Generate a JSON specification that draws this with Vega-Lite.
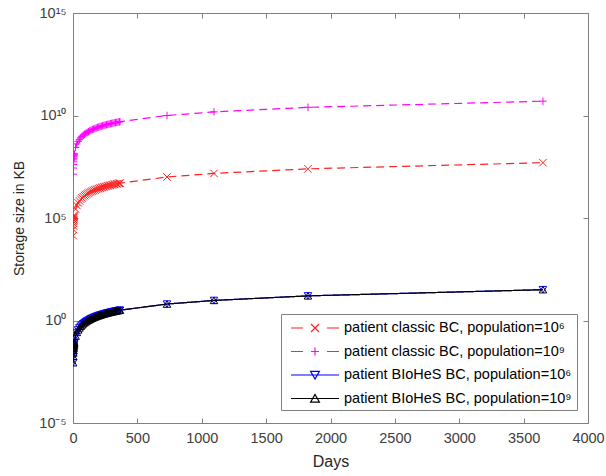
{
"$schema":"https://vega.github.io/schema/vega-lite/v6.json",
"width":515,"height":410,
"autosize":"none",
"padding":{"left":73,"top":13,"right":18,"bottom":53},
"background":"white",
"config":{"font":"Liberation Sans","view":{"stroke":null}},
"datasets":{
"leg":[{"lg":"patient classic BC, population=10⁶"},{"lg":"patient classic BC, population=10⁹"},{"lg":"patient BIoHeS BC, population=10⁶"},{"lg":"patient BIoHeS BC, population=10⁹"}],
"main":[
{"s":"c6","d":1,"v":1.37e4},{"s":"c6","d":2,"v":2.74e4},{"s":"c6","d":3,"v":4.11e4},{"s":"c6","d":4,"v":5.48e4},{"s":"c6","d":5,"v":6.85e4},{"s":"c6","d":6,"v":8.22e4},{"s":"c6","d":7,"v":9.59e4},{"s":"c6","d":8,"v":1.096e5},{"s":"c6","d":9,"v":1.233e5},{"s":"c6","d":10,"v":1.37e5},
{"s":"c6","d":20,"v":2.74e5},{"s":"c6","d":30,"v":4.11e5},{"s":"c6","d":40,"v":5.48e5},{"s":"c6","d":50,"v":6.85e5},{"s":"c6","d":60,"v":8.22e5},{"s":"c6","d":70,"v":9.59e5},{"s":"c6","d":80,"v":1.096e6},{"s":"c6","d":90,"v":1.233e6},{"s":"c6","d":100,"v":1.37e6},{"s":"c6","d":110,"v":1.507e6},
{"s":"c6","d":120,"v":1.644e6},{"s":"c6","d":130,"v":1.781e6},{"s":"c6","d":140,"v":1.918e6},{"s":"c6","d":150,"v":2.055e6},{"s":"c6","d":160,"v":2.192e6},{"s":"c6","d":170,"v":2.329e6},{"s":"c6","d":180,"v":2.466e6},{"s":"c6","d":190,"v":2.603e6},{"s":"c6","d":200,"v":2.74e6},{"s":"c6","d":210,"v":2.877e6},
{"s":"c6","d":220,"v":3.014e6},{"s":"c6","d":230,"v":3.151e6},{"s":"c6","d":240,"v":3.288e6},{"s":"c6","d":250,"v":3.425e6},{"s":"c6","d":260,"v":3.562e6},{"s":"c6","d":270,"v":3.699e6},{"s":"c6","d":280,"v":3.836e6},{"s":"c6","d":290,"v":3.973e6},{"s":"c6","d":300,"v":4.11e6},{"s":"c6","d":310,"v":4.247e6},
{"s":"c6","d":320,"v":4.384e6},{"s":"c6","d":330,"v":4.521e6},{"s":"c6","d":340,"v":4.658e6},{"s":"c6","d":350,"v":4.795e6},{"s":"c6","d":360,"v":4.932e6},{"s":"c6","d":365,"v":5.0e6},{"s":"c6","d":730,"v":1.0e7},{"s":"c6","d":1095,"v":1.5e7},{"s":"c6","d":1825,"v":2.5e7},{"s":"c6","d":3650,"v":5.0e7},
{"s":"c9","d":1,"v":1.37e7},{"s":"c9","d":2,"v":2.74e7},{"s":"c9","d":3,"v":4.11e7},{"s":"c9","d":4,"v":5.48e7},{"s":"c9","d":5,"v":6.85e7},{"s":"c9","d":6,"v":8.22e7},{"s":"c9","d":7,"v":9.59e7},{"s":"c9","d":8,"v":1.096e8},{"s":"c9","d":9,"v":1.233e8},{"s":"c9","d":10,"v":1.37e8},
{"s":"c9","d":20,"v":2.74e8},{"s":"c9","d":30,"v":4.11e8},{"s":"c9","d":40,"v":5.48e8},{"s":"c9","d":50,"v":6.85e8},{"s":"c9","d":60,"v":8.22e8},{"s":"c9","d":70,"v":9.59e8},{"s":"c9","d":80,"v":1.096e9},{"s":"c9","d":90,"v":1.233e9},{"s":"c9","d":100,"v":1.37e9},{"s":"c9","d":110,"v":1.507e9},
{"s":"c9","d":120,"v":1.644e9},{"s":"c9","d":130,"v":1.781e9},{"s":"c9","d":140,"v":1.918e9},{"s":"c9","d":150,"v":2.055e9},{"s":"c9","d":160,"v":2.192e9},{"s":"c9","d":170,"v":2.329e9},{"s":"c9","d":180,"v":2.466e9},{"s":"c9","d":190,"v":2.603e9},{"s":"c9","d":200,"v":2.74e9},{"s":"c9","d":210,"v":2.877e9},
{"s":"c9","d":220,"v":3.014e9},{"s":"c9","d":230,"v":3.151e9},{"s":"c9","d":240,"v":3.288e9},{"s":"c9","d":250,"v":3.425e9},{"s":"c9","d":260,"v":3.562e9},{"s":"c9","d":270,"v":3.699e9},{"s":"c9","d":280,"v":3.836e9},{"s":"c9","d":290,"v":3.973e9},{"s":"c9","d":300,"v":4.11e9},{"s":"c9","d":310,"v":4.247e9},
{"s":"c9","d":320,"v":4.384e9},{"s":"c9","d":330,"v":4.521e9},{"s":"c9","d":340,"v":4.658e9},{"s":"c9","d":350,"v":4.795e9},{"s":"c9","d":360,"v":4.932e9},{"s":"c9","d":365,"v":5.0e9},{"s":"c9","d":730,"v":1.0e10},{"s":"c9","d":1095,"v":1.5e10},{"s":"c9","d":1825,"v":2.5e10},{"s":"c9","d":3650,"v":5.0e10},
{"s":"b6","d":1,"v":0.0087},{"s":"b6","d":2,"v":0.0174},{"s":"b6","d":3,"v":0.0261},{"s":"b6","d":4,"v":0.0348},{"s":"b6","d":5,"v":0.0435},{"s":"b6","d":6,"v":0.0522},{"s":"b6","d":7,"v":0.0609},{"s":"b6","d":8,"v":0.0696},{"s":"b6","d":9,"v":0.0783},{"s":"b6","d":10,"v":0.087},
{"s":"b6","d":20,"v":0.174},{"s":"b6","d":30,"v":0.261},{"s":"b6","d":40,"v":0.348},{"s":"b6","d":50,"v":0.435},{"s":"b6","d":60,"v":0.522},{"s":"b6","d":70,"v":0.609},{"s":"b6","d":80,"v":0.696},{"s":"b6","d":90,"v":0.783},{"s":"b6","d":100,"v":0.87},{"s":"b6","d":110,"v":0.957},
{"s":"b6","d":120,"v":1.044},{"s":"b6","d":130,"v":1.131},{"s":"b6","d":140,"v":1.218},{"s":"b6","d":150,"v":1.305},{"s":"b6","d":160,"v":1.392},{"s":"b6","d":170,"v":1.479},{"s":"b6","d":180,"v":1.566},{"s":"b6","d":190,"v":1.653},{"s":"b6","d":200,"v":1.74},{"s":"b6","d":210,"v":1.827},
{"s":"b6","d":220,"v":1.914},{"s":"b6","d":230,"v":2.001},{"s":"b6","d":240,"v":2.088},{"s":"b6","d":250,"v":2.175},{"s":"b6","d":260,"v":2.262},{"s":"b6","d":270,"v":2.349},{"s":"b6","d":280,"v":2.436},{"s":"b6","d":290,"v":2.523},{"s":"b6","d":300,"v":2.61},{"s":"b6","d":310,"v":2.697},
{"s":"b6","d":320,"v":2.784},{"s":"b6","d":330,"v":2.871},{"s":"b6","d":340,"v":2.958},{"s":"b6","d":350,"v":3.045},{"s":"b6","d":360,"v":3.132},{"s":"b6","d":365,"v":3.18},{"s":"b6","d":730,"v":6.35},{"s":"b6","d":1095,"v":9.53},{"s":"b6","d":1825,"v":15.9},{"s":"b6","d":3650,"v":31.8},
{"s":"b9","d":1,"v":0.0087},{"s":"b9","d":2,"v":0.0174},{"s":"b9","d":3,"v":0.0261},{"s":"b9","d":4,"v":0.0348},{"s":"b9","d":5,"v":0.0435},{"s":"b9","d":6,"v":0.0522},{"s":"b9","d":7,"v":0.0609},{"s":"b9","d":8,"v":0.0696},{"s":"b9","d":9,"v":0.0783},{"s":"b9","d":10,"v":0.087},
{"s":"b9","d":20,"v":0.174},{"s":"b9","d":30,"v":0.261},{"s":"b9","d":40,"v":0.348},{"s":"b9","d":50,"v":0.435},{"s":"b9","d":60,"v":0.522},{"s":"b9","d":70,"v":0.609},{"s":"b9","d":80,"v":0.696},{"s":"b9","d":90,"v":0.783},{"s":"b9","d":100,"v":0.87},{"s":"b9","d":110,"v":0.957},
{"s":"b9","d":120,"v":1.044},{"s":"b9","d":130,"v":1.131},{"s":"b9","d":140,"v":1.218},{"s":"b9","d":150,"v":1.305},{"s":"b9","d":160,"v":1.392},{"s":"b9","d":170,"v":1.479},{"s":"b9","d":180,"v":1.566},{"s":"b9","d":190,"v":1.653},{"s":"b9","d":200,"v":1.74},{"s":"b9","d":210,"v":1.827},
{"s":"b9","d":220,"v":1.914},{"s":"b9","d":230,"v":2.001},{"s":"b9","d":240,"v":2.088},{"s":"b9","d":250,"v":2.175},{"s":"b9","d":260,"v":2.262},{"s":"b9","d":270,"v":2.349},{"s":"b9","d":280,"v":2.436},{"s":"b9","d":290,"v":2.523},{"s":"b9","d":300,"v":2.61},{"s":"b9","d":310,"v":2.697},
{"s":"b9","d":320,"v":2.784},{"s":"b9","d":330,"v":2.871},{"s":"b9","d":340,"v":2.958},{"s":"b9","d":350,"v":3.045},{"s":"b9","d":360,"v":3.132},{"s":"b9","d":365,"v":3.18},{"s":"b9","d":730,"v":6.35},{"s":"b9","d":1095,"v":9.53},{"s":"b9","d":1825,"v":15.9},{"s":"b9","d":3650,"v":31.8}
]},
"layer":[
{"data":{"name":"main"},
 "mark":{"type":"line","strokeWidth":1.2,"clip":true},
 "encoding":{
  "x":{"field":"d","type":"quantitative","scale":{"domain":[0,4000],"nice":false,"zero":false},
   "axis":{"orient":"bottom","values":[0,500,1000,1500,2000,2500,3000,3500,4000],"format":"d","title":"Days","grid":false,"tickSize":-5,"labelPadding":13,"labelFontSize":14.5,"labelColor":"#404040","domainColor":"#808080","tickColor":"#808080","titleFontSize":16,"titleFontWeight":"normal","titleColor":"#262626","titlePadding":9,"labelFlush":false,"labelOverlap":false}},
  "y":{"field":"v","type":"quantitative","scale":{"type":"log","domain":[1e-5,1e15],"nice":false},
   "axis":{"orient":"left","values":[1e-5,1,1e5,1e10,1e15],"labelExpr":"datum.value > 1e12 ? '10¹⁵' : datum.value > 1e7 ? '10¹⁰' : datum.value > 100 ? '10⁵' : datum.value > 0.01 ? '10⁰' : '10⁻⁵'","title":"Storage size in KB","grid":false,"tickSize":-5,"labelPadding":12,"labelFontSize":14.5,"labelColor":"#404040","domainColor":"#808080","tickColor":"#808080","titleFontSize":14,"titleFontWeight":"normal","titleColor":"#262626","titlePadding":12,"labelFlush":false,"labelOverlap":false}},
  "color":{"field":"s","type":"nominal","scale":{"domain":["c6","c9","b6","b9"],"range":["#ff2020","#ff00ff","#0000ff","#000000"]},"legend":null},
  "strokeDash":{"field":"s","type":"nominal","scale":{"domain":["c6","c9","b6","b9"],"range":[[8,5],[8,5],[1,0],[1,0]]},"legend":null}
 }},
{"data":{"name":"main"},
 "mark":{"type":"point","filled":false,"strokeWidth":1,"size":56,"opacity":1,"clip":true},
 "encoding":{
  "x":{"field":"d","type":"quantitative","scale":{"domain":[0,4000],"nice":false,"zero":false},"axis":null},
  "y":{"field":"v","type":"quantitative","scale":{"type":"log","domain":[1e-5,1e15],"nice":false},"axis":null},
  "color":{"field":"s","type":"nominal","scale":{"domain":["c6","c9","b6","b9"],"range":["#ff2020","#ff00ff","#0000ff","#000000"]},"legend":null},
  "shape":{"field":"s","type":"nominal","scale":{"domain":["c6","c9","b6","b9"],"range":["M-1,-1L1,1M-1,1L1,-1","M-1,0H1M0,-1V1","triangle-down","triangle-up"]},"legend":null}
 }},
{"data":{"name":"main"},
 "mark":{"type":"point","opacity":0},
 "encoding":{
  "x":{"field":"d","type":"quantitative","scale":{"domain":[0,4000],"nice":false,"zero":false},
   "axis":{"orient":"top","values":[0,500,1000,1500,2000,2500,3000,3500,4000],"labels":false,"title":null,"grid":false,"tickSize":-5,"domainColor":"#808080","tickColor":"#808080"}},
  "y":{"field":"v","type":"quantitative","scale":{"type":"log","domain":[1e-5,1e15],"nice":false},
   "axis":{"orient":"right","values":[1e-5,1,1e5,1e10,1e15],"labels":false,"title":null,"grid":false,"tickSize":-5,"domainColor":"#808080","tickColor":"#808080"}}
 }},
{"data":{"name":"leg"},
 "mark":{"type":"point","filled":false,"opacity":0},
 "encoding":{
  "color":{"field":"lg","type":"nominal","scale":{"domain":["patient classic BC, population=10⁶","patient classic BC, population=10⁹","patient BIoHeS BC, population=10⁶","patient BIoHeS BC, population=10⁹"],"range":["#ff2020","#ff00ff","#0000ff","#000000"]},
   "legend":{"title":null,"orient":"none","legendX":208,"legendY":301,"padding":5,"strokeColor":"#808080","fillColor":"white","symbolSize":256,"symbolStrokeWidth":1.2,"symbolOpacity":1,"labelFontSize":14.5,"labelColor":"#000000","labelOffset":40,"rowPadding":7.5,"labelLimit":400}},
  "shape":{"field":"lg","type":"nominal","scale":{"domain":["patient classic BC, population=10⁶","patient classic BC, population=10⁹","patient BIoHeS BC, population=10⁶","patient BIoHeS BC, population=10⁹"],"range":["M-0.5,0H1M4,0H5.5M2,-0.5L3,0.5M2,0.5L3,-0.5","M-0.5,0H1M4,0H5.5M2,0H3M2.5,-0.5V0.5","M-0.5,0H5.5M1.95,-0.45L3.05,-0.45L2.5,0.5Z","M-0.5,0H5.5M1.95,0.45L3.05,0.45L2.5,-0.5Z"]},
   "legend":{"title":null,"orient":"none","legendX":208,"legendY":301,"padding":5,"strokeColor":"#808080","fillColor":"white","symbolSize":256,"symbolStrokeWidth":1.2,"symbolOpacity":1,"labelFontSize":14.5,"labelColor":"#000000","labelOffset":40,"rowPadding":7.5,"labelLimit":400}}
 }}
],
"resolve":{"scale":{"color":"independent","shape":"independent"},"axis":{"x":"independent","y":"independent"}}
}
